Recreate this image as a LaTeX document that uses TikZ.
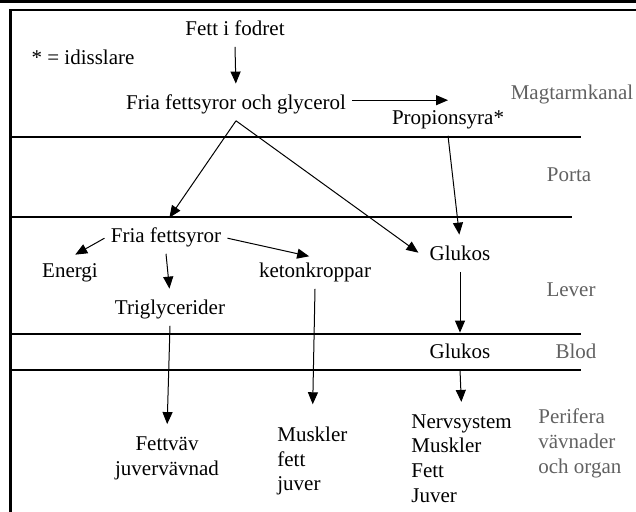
\documentclass[tikz,border=0pt]{standalone}
\usepackage{fontspec}
\setmainfont{Liberation Serif}
\usetikzlibrary{arrows.meta}
\tikzset{
  lbl/.style={inner sep=3pt, anchor=base, text height=0.7em, text depth=0.22em},
  blk/.style={inner sep=3pt, align=left},
  zone/.style={inner sep=3pt, anchor=base, text=black!62},
  flow/.style={line width=0.5pt, -{Triangle[length=6pt,width=5pt]}, shorten >=3pt},
}
\begin{document}
\begin{tikzpicture}[x=0.5pt,y=-0.5pt,font=\fontsize{10.5}{12.4}\selectfont]
\useasboundingbox (0,0) rectangle (636,512);
\draw[line width=1.3pt] (1,0) -- (1,1.4) -- (636,1.4);
\draw[line width=1.2pt] (10.3,512) -- (10.3,10.3) -- (636,10.3);
\foreach \yy/\xx in {137/581,217/572,334/581,370/581}
    \draw[line width=0.6pt] (10,\yy) -- (\xx,\yy);
\node[lbl] (fett) at (235,36) {Fett i fodret};
\node[lbl] (idiss) at (83,65) {* = idisslare};
\node[lbl] (fria) at (236,110) {Fria fettsyror och glycerol};
\node[lbl] (prop) at (448,125) {Propionsyra*};
\node[lbl] (ffa) at (166,243) {Fria fettsyror};
\node[lbl] (energi) at (70,278) {Energi};
\node[lbl] (keton) at (315,278) {ketonkroppar};
\node[lbl] (trig) at (170,315) {Triglycerider};
\node[lbl] (glukL) at (460,261) {Glukos};
\node[lbl] (glukB) at (460,359) {Glukos};
\node[blk,align=center] (fettvav) at (167,458) {Fettväv\\juvervävnad};
\node[blk,anchor=west] (musk) at (271,461) {Muskler\\fett\\juver};
\node[blk,anchor=west] (nerv) at (405,458.5) {Nervsystem\\Muskler\\Fett\\Juver};
\node[zone] (magtarm) at (572,100) {Magtarmkanal};
\node[zone] (porta) at (569,182) {Porta};
\node[zone] (lever) at (571,297) {Lever};
\node[zone] (blod) at (576,359) {Blod};
\node[zone,blk,anchor=west] (perif) at (532,443.5) {Perifera\\vävnader\\och organ};
\draw[flow] (fett.south) -- (fria.north);
\draw[flow,shorten >=0pt] ([yshift=2.5pt]fria.east) -- ([yshift=2.5pt]fria.east -| prop);
\draw[flow] (fria.south) -- (ffa.north);
\draw[flow] (fria.south) -- (glukL.west);
\draw[flow] (prop.south) -- (glukL.north);
\draw[flow] (ffa.west) -- (energi.north);
\draw[flow] (ffa.south) -- (trig.north);
\draw[flow] (ffa.east) -- (keton.north);
\draw[flow] (trig.south) -- (fettvav.north);
\draw[flow,shorten >=8pt] (keton.south) -- (musk.north);
\draw[flow] (glukL.south) -- (glukB.north);
\draw[flow] (glukB.south) -- (nerv.north);
\end{tikzpicture}
\end{document}
